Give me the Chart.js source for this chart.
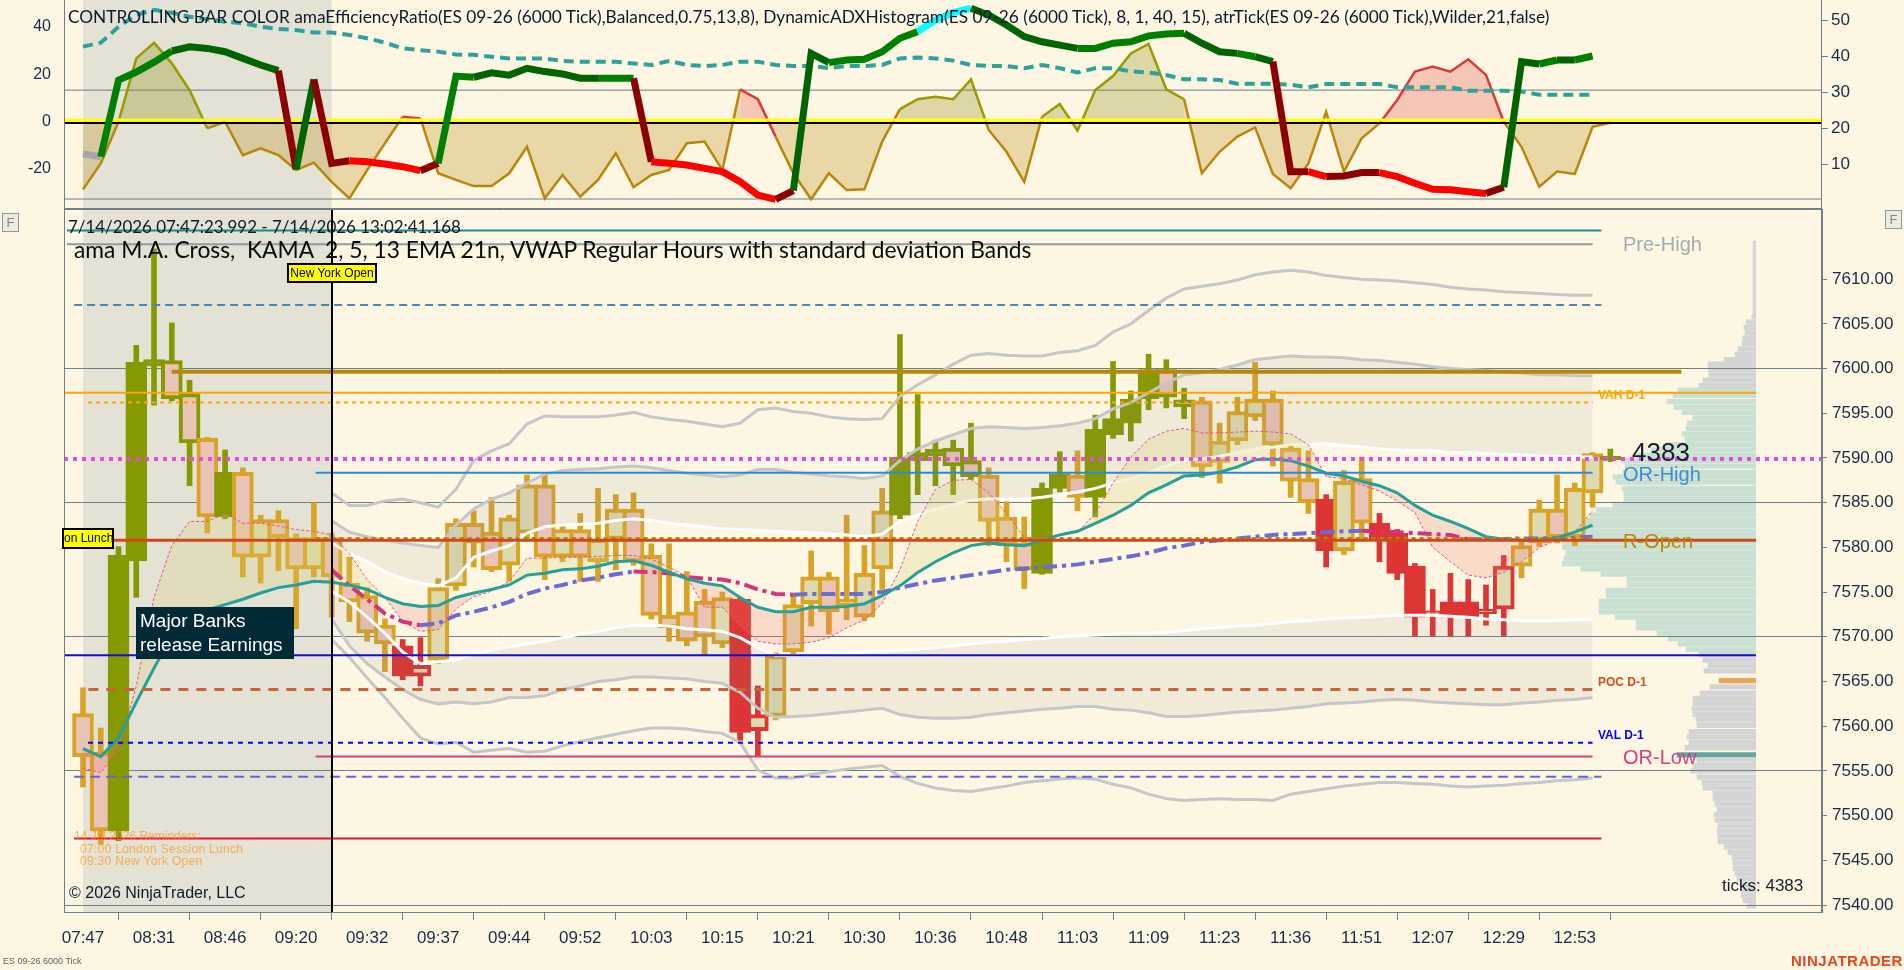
<!DOCTYPE html>
<html>
<head>
<meta charset="utf-8">
<title>ES 09-26 (6000 Tick)</title>
<script src="https://cdn.jsdelivr.net/npm/chart.js@4.4.1/dist/chart.umd.min.js"></script>
<style>
  html, body { margin:0; padding:0; }
  body { width:1904px; height:970px; background:#fdf6e3; position:relative; overflow:hidden; font-family:'Liberation Sans', Arial, sans-serif; }
  canvas { position:absolute; left:0; top:0; width:1904px; height:970px; }
  #overlay { position:absolute; left:0; top:0; width:1904px; height:970px; z-index:5; pointer-events:none; }
  .t { position:absolute; white-space:pre; line-height:1; transform:translateY(-50%); }
  .box { position:absolute; box-sizing:border-box; white-space:nowrap; overflow:hidden; }
</style>
</head>
<body>
<canvas id="cProfile" width="1904" height="970" style="z-index:1"></canvas>
<canvas id="cTop" width="1904" height="970" style="z-index:2"></canvas>
<canvas id="cMain" width="1904" height="970" style="z-index:3"></canvas>
<div id="overlay"></div>
<script>
// ======================= DATA =======================
const timeLabels = ['07:47','08:31','08:46','09:20','09:32','09:37','09:44','09:52','10:03','10:15','10:21',
                    '10:30','10:36','10:48','11:03','11:09','11:23','11:36','11:51','12:07','12:29','12:53'];
const barsPerLabel = 4;
const priceTicks = [7540,7545,7550,7555,7560,7565,7570,7575,7580,7585,7590,7595,7600,7605,7610];
const priceGridEvery = 15;
const topLeftTicks = [-20,0,20,40];
const topRightTicks = [10,20,30,40,50];

// OHLC of the 6000-tick bars (bar 0 = 07:47)
const opens = [7561.4,7557.1,7548.3,7578.5,7600.3,7600.9,7597.2,7592.2,7583.4,7588.4,
 7578.9,7583.1,7581.1,7577.6,7581.1,7576.0,7574.6,7571.3,7569.0,7565.6,
 7567.4,7575.7,7582.7,7581.7,7578.0,7581.6,7587.0,7578.9,7582.0,7578.4,
 7580.9,7584.3,7579.1,7572.4,7572.8,7574.0,7569.2,7574.2,7559.5,7561.1,
 7568.3,7573.7,7576.7,7573.5,7572.2,7577.6,7583.6,7589.7,7590.2,7591.1,
 7589.7,7588.1,7583.4,7580.5,7577.1,7586.6,7588.1,7585.6,7592.6,7593.9,
 7596.6,7599.9,7596.5,7596.4,7589.5,7591.9,7594.6,7596.6,7591.1,7587.7,
 7585.4,7579.6,7587.7,7582.7,7581.6,7577.9,7572.4,7573.9,7573.9,7572.6,
 7573.1,7577.9,7580.5,7584.3,7581.1,7586.1,7589.8];
const highs = [7564.3,7559.8,7580.1,7602.6,7613.4,7605.1,7598.7,7592.3,7590.9,7588.9,
 7583.6,7584.1,7581.5,7585.0,7581.6,7578.9,7575.5,7572.0,7569.7,7569.9,
 7576.5,7583.2,7584.1,7585.6,7583.6,7588.1,7588.1,7582.6,7583.8,7586.6,
 7585.9,7586.1,7580.4,7580.4,7577.3,7575.3,7575.0,7574.3,7564.5,7568.2,
 7574.6,7579.6,7577.2,7583.6,7580.2,7586.6,7603.8,7597.1,7592.0,7592.0,
 7593.9,7588.9,7585.1,7583.4,7587.2,7590.7,7590.8,7594.8,7600.8,7597.5,
 7601.6,7601.0,7597.8,7596.8,7593.9,7596.8,7600.7,7597.5,7591.6,7590.8,
 7585.9,7588.6,7590.1,7583.8,7582.0,7578.2,7575.3,7577.1,7576.4,7575.8,
 7579.1,7580.6,7585.3,7588.1,7587.2,7590.6,7591.0];
const lows = [7553.2,7546.8,7547.2,7574.4,7595.9,7596.4,7586.9,7581.6,7583.2,7576.7,
 7576.0,7577.4,7570.9,7576.7,7572.2,7571.7,7569.5,7566.1,7565.2,7564.5,
 7567.0,7575.2,7577.8,7577.3,7576.2,7581.0,7576.4,7578.4,7576.2,7576.2,
 7577.5,7578.0,7572.0,7569.5,7569.0,7567.9,7568.8,7558.4,7556.6,7560.7,
 7568.0,7571.2,7570.3,7571.9,7571.8,7575.3,7583.2,7585.9,7586.9,7585.9,
 7587.6,7580.2,7578.4,7575.4,7577.0,7586.2,7584.1,7583.4,7592.2,7591.9,
 7595.4,7595.6,7594.4,7587.8,7587.2,7591.5,7594.2,7589.1,7585.6,7583.8,
 7577.8,7579.2,7580.9,7578.4,7576.4,7570.1,7570.1,7570.1,7570.1,7571.3,
 7570.1,7576.6,7580.1,7580.5,7580.2,7584.5,7589.6];
const closes = [7556.6,7548.3,7579.1,7600.7,7601.0,7596.6,7591.7,7583.4,7588.4,7578.9,
 7583.1,7581.1,7577.6,7581.1,7576.7,7573.9,7570.4,7569.2,7565.6,7566.8,
 7575.5,7582.7,7580.5,7577.5,7583.3,7587.0,7578.9,7582.0,7578.9,7580.9,
 7584.3,7578.4,7572.4,7571.0,7569.5,7570.0,7574.4,7559.3,7561.3,7567.9,
 7573.6,7576.7,7572.8,7574.2,7577.1,7584.1,7590.1,7590.6,7591.0,7589.1,
 7587.9,7582.9,7580.2,7577.5,7586.6,7588.2,7585.6,7593.2,7594.4,7596.6,
 7599.9,7596.8,7595.7,7589.0,7591.9,7595.2,7596.6,7591.5,7587.4,7585.0,
 7579.6,7587.4,7582.7,7580.9,7577.1,7572.2,7572.9,7572.2,7572.2,7573.1,
 7577.9,7580.2,7584.3,7581.1,7586.6,7590.5,7590.2];
// controlling bar colour state: g = bullish, o = neutral, r = bearish
const barState = ('oogggggogo oooooooorr oooooooooo ooooooorro oooooogggg ' +
                  'goooggoggg gggooooooo roorrrrrrr rooooog').replace(/ /g,'').split('');

// moving averages (bar 0..85)
const ema = [7557.5,7556.6,7558.7,7562.7,7566.5,7570.1,7571.9,7573.0,7573.6,7574.2,
 7574.9,7575.5,7575.8,7576.2,7576.1,7575.8,7575.3,7574.4,7573.7,7573.4,
 7573.5,7574.4,7574.9,7575.3,7575.8,7576.9,7577.1,7577.5,7577.6,7577.9,
 7578.4,7578.5,7578.0,7577.2,7576.5,7576.0,7575.7,7574.4,7573.3,7572.8,
 7572.8,7573.3,7573.3,7573.4,7573.7,7574.6,7575.7,7577.2,7578.4,7579.4,
 7580.2,7580.5,7580.3,7580.2,7580.8,7581.4,7581.8,7582.7,7583.6,7584.7,
 7586.1,7587.0,7588.0,7588.1,7588.4,7589.0,7589.8,7589.9,7589.7,7589.1,
 7588.3,7588.0,7587.4,7586.9,7586.1,7584.7,7583.6,7582.9,7582.1,7581.2,
 7580.9,7580.8,7580.8,7581.1,7581.7,7582.5];
const kama = [7555.3,7554.8,7557.5,7564.5,7574.4,7580.2,7582.9,7582.9,7583.8,7582.7,
 7582.7,7582.4,7582.0,7581.8,7581.4,7579.3,7576.4,7574.4,7571.7,7570.6,
 7570.8,7573.1,7574.5,7575.1,7576.2,7578.8,7578.8,7578.9,7578.9,7579.0,
 7579.1,7579.1,7578.7,7577.8,7576.7,7573.3,7573.3,7571.3,7569.5,7569.2,
 7569.2,7569.4,7569.9,7571.0,7571.9,7573.7,7577.5,7582.9,7586.5,7587.5,
 7587.6,7586.1,7583.8,7581.1,7581.1,7581.3,7581.7,7583.8,7587.2,7590.1,
 7592.1,7593.0,7593.3,7592.8,7592.8,7592.9,7593.0,7592.9,7592.7,7591.5,
 7587.9,7587.7,7587.0,7586.3,7585.2,7583.9,7580.0,7578.4,7576.9,7576.6,
 7577.2,7578.4,7580.0,7580.8,7581.7,7584.1];

// VWAP (regular hours) and standard deviation bands, from bar 14 (09:30) to bar 85
const bandStartBar = 14;
const vwap = [7577.5,7575.7,7574.2,7572.6,7571.7,7571.3,7571.5,7572.4,7572.8,7573.3,
 7573.9,7574.8,7575.4,7575.8,7576.3,7576.6,7577.0,7577.3,7577.25,7577.1,
 7576.7,7576.5,7576.4,7576.0,7575.3,7574.8,7574.7,7574.8,7574.8,7574.8,
 7574.8,7575.0,7575.5,7575.9,7576.3,7576.6,7576.9,7577.2,7577.5,7577.6,
 7577.8,7577.9,7578.1,7578.4,7578.7,7579.0,7579.4,7579.9,7580.2,7580.6,
 7580.8,7581.0,7581.2,7581.4,7581.5,7581.6,7581.7,7581.8,7581.85,7581.8,
 7581.7,7581.6,7581.5,7581.4,7580.9,7580.9,7580.95,7581.0,7581.0,7581.05,
 7581.1,7581.2];
const upper1 = [7580.5,7579.3,7578.4,7577.3,7576.5,7576.0,7575.7,7576.6,7578.9,7579.6,
 7580.2,7581.6,7582.3,7582.5,7582.6,7582.7,7583.0,7583.2,7583.0,7582.7,
 7582.5,7582.3,7582.1,7582.0,7581.9,7581.8,7581.7,7581.6,7581.5,7581.4,
 7581.2,7581.5,7582.9,7583.6,7584.3,7584.8,7585.3,7585.4,7585.4,7585.4,
 7585.6,7585.9,7586.2,7586.6,7587.2,7587.7,7588.4,7589.1,7589.8,7589.9,
 7590.2,7590.6,7591.0,7591.2,7591.5,7591.5,7591.6,7591.4,7591.2,7591.0,
 7590.9,7590.8,7590.8,7590.6,7590.6,7590.5,7590.4,7590.3,7590.2,7590.2,
 7590.1,7590.1];
const lower1 = [7575.1,7573.9,7572.2,7570.4,7568.3,7567.0,7567.2,7567.4,7568.1,7568.5,
 7568.9,7569.2,7569.5,7569.9,7570.3,7570.6,7571.0,7571.3,7571.3,7571.2,
 7570.9,7570.8,7570.6,7569.9,7568.8,7567.9,7567.9,7568.0,7568.0,7568.1,
 7568.3,7568.4,7568.5,7568.6,7568.8,7569.0,7569.2,7569.4,7569.5,7569.7,
 7569.8,7570.0,7570.1,7570.2,7570.3,7570.4,7570.4,7570.5,7570.7,7570.9,
 7571.0,7571.2,7571.3,7571.5,7571.7,7571.8,7572.0,7572.1,7572.2,7572.3,
 7572.4,7572.4,7572.4,7572.3,7572.2,7572.0,7571.9,7571.8,7571.8,7571.8,
 7571.9,7571.9];
const upper2 = [7583.0,7581.7,7581.2,7580.8,7580.5,7580.2,7580.0,7582.5,7584.3,7585.4,
 7586.1,7587.2,7588.2,7588.6,7588.7,7588.8,7589.0,7589.1,7588.9,7588.6,
 7588.3,7588.1,7587.9,7588.1,7588.7,7588.7,7588.4,7588.2,7588.0,7587.9,
 7587.7,7588.0,7589.7,7591.0,7591.9,7592.6,7593.3,7593.5,7593.4,7593.3,
 7593.4,7593.6,7593.9,7594.4,7595.5,7596.2,7597.3,7598.4,7599.3,7599.5,
 7599.9,7600.4,7601.0,7601.2,7601.4,7601.3,7601.3,7601.2,7601.0,7600.9,
 7600.7,7600.5,7600.2,7600.0,7599.9,7599.8,7599.6,7599.5,7599.3,7599.3,
 7599.2,7599.2];
const lower2 = [7572.0,7569.0,7567.0,7565.5,7564.1,7563.0,7562.5,7562.7,7562.5,7562.7,
 7563.2,7563.2,7563.4,7564.1,7564.5,7565.0,7565.2,7565.5,7565.5,7565.4,
 7565.3,7565.0,7564.8,7563.8,7562.0,7561.0,7561.1,7561.2,7561.4,7561.6,
 7561.8,7562.0,7561.3,7561.0,7560.9,7560.9,7561.0,7561.3,7561.5,7561.7,
 7561.9,7562.0,7562.2,7562.2,7561.9,7561.8,7561.5,7561.1,7561.1,7561.2,
 7561.4,7561.6,7561.7,7561.8,7562.0,7562.2,7562.5,7562.6,7562.7,7562.9,
 7563.0,7562.9,7562.7,7562.6,7562.5,7562.4,7562.4,7562.6,7562.7,7562.9,
 7563.0,7563.2];
const upper3 = [7586.1,7584.7,7584.7,7585.2,7585.4,7585.0,7584.5,7586.5,7589.7,7590.8,
 7591.6,7593.8,7594.7,7594.6,7594.6,7594.6,7594.8,7595.1,7594.6,7594.3,
 7594.1,7593.8,7593.5,7593.9,7595.4,7595.6,7595.2,7595.0,7594.6,7594.4,
 7594.3,7594.4,7596.9,7598.2,7599.3,7600.5,7601.5,7601.7,7601.5,7601.4,
 7601.4,7601.8,7602.0,7602.6,7604.1,7605.0,7606.5,7607.9,7608.9,7609.2,
 7609.5,7609.9,7610.5,7610.8,7611.0,7610.8,7610.4,7610.2,7610.0,7609.9,
 7609.8,7609.6,7609.4,7609.1,7608.9,7608.8,7608.6,7608.5,7608.4,7608.3,
 7608.2,7608.2];
const lower3 = [7569.7,7567.7,7565.4,7563.2,7560.9,7558.7,7558.0,7558.2,7557.1,7557.3,
 7557.5,7557.1,7557.2,7557.8,7558.3,7558.7,7559.1,7559.5,7559.8,7559.8,
 7559.7,7559.4,7559.2,7558.2,7555.1,7554.2,7554.2,7554.6,7554.9,7555.2,
 7555.4,7555.6,7554.4,7553.6,7553.1,7552.8,7552.7,7553.0,7553.3,7553.7,
 7553.9,7554.1,7554.2,7554.1,7553.5,7553.1,7552.4,7551.9,7551.7,7551.8,
 7551.9,7551.8,7551.8,7551.7,7552.4,7552.7,7553.0,7553.3,7553.5,7553.7,
 7553.7,7553.6,7553.5,7553.3,7553.2,7553.3,7553.4,7553.6,7553.7,7553.9,
 7554.0,7554.2];

// horizontal price levels (price, first bar, last bar)
const levelNames  = ['teal','preHigh','steelDash','goldThick','vah','orangeDot','magentaDot','orHigh','rOpen','goldDot','blue','poc','val','orLow','purpleDash','crimson'];
const levelPrices = [7615.45,7613.9,7607.1,7599.65,7597.3,7596.2,7589.9,7588.35,7580.8,7580.95,7567.95,7564.1,7558.15,7556.6,7554.35,7547.45];
const levelFrom   = [-0.9,-0.9,-0.5,5.0,-1.07,0.28,-1.07,13.1,-1.07,13.1,-1.07,0.3,0.28,13.1,-0.5,-0.5];
const levelTo     = [85.5,85.0,85.5,90.0,94.2,85.0,97.92,85.0,94.2,85.0,94.2,85.0,85.0,85.0,85.5,85.5];
const sessionStartBar = 0;
const nyOpenBar = 14;

// volume profile (price, volume)
const profilePrices = [7614.0,7613.4,7612.8,7612.2,7611.6,7611.0,7610.4,7609.8,7609.2,7608.6,7608.0,7607.4,7606.8,7606.2,7605.8,
 7605.2,7604.6,7604.0,7603.4,7602.8,7602.2,7601.6,7601.0,7600.5,7599.9,7599.3,7598.7,7598.1,
 7597.6,7597.0,7596.3,7595.7,7595.1,7594.5,7593.9,7593.3,7592.7,7592.1,7591.5,7590.9,7590.3,7589.7,7589.1,7588.4,7587.9,7587.3,
 7586.6,7586.0,7585.4,7584.8,7584.2,7583.6,7583.0,7582.4,7581.8,7581.2,7580.6,7580.0,7579.4,7578.8,7578.2,7577.6,7577.0,
 7576.4,7575.8,7575.2,7574.6,7574.0,7573.4,7572.8,7572.2,7571.6,7571.0,7570.4,7569.8,7569.2,7568.6,
 7568.0,7567.4,7566.8,7566.2,7565.1,7564.4,7563.7,7563.1,7562.5,7561.9,7561.3,7560.7,7560.1,7559.4,7558.8,7558.2,7557.6,
 7556.8,7556.2,7555.6,7555.0,7554.3,7553.7,7553.1,7552.5,7551.9,7551.3,7550.7,7550.1,7549.5,7548.9,7548.3,7547.7,7547.1,
 7546.5,7545.9,7545.3,7544.7,7544.1,7543.5,7542.9,7542.3,7541.7,7541.1,7540.5,7539.9];
const profileVolumes = [3,3,3,3,3,3,3,3,3,3,3,3,3,3,4,
 10,12,11,13,14,18,21,32,48,48,47,53,57,
 78,83,89,82,74,63,69,70,74,71,90,105,120,135,131,133,143,140,
 134,132,132,143,160,165,170,175,180,185,194,194,190,192,194,175,155,
 129,129,150,150,157,157,157,141,120,120,99,88,78,70,
 57,53,48,52,37,46,56,63,63,64,63,60,59,67,69,67,71,
 79,59,63,65,59,54,53,43,43,41,39,42,41,38,39,38,38,
 32,28,24,23,23,21,19,16,14,15,13,9];
const valueAreaHigh = 7597.8, valueAreaLow = 7568.3;
const prevPocMarkPrice = 7565.1, openRangeMarkPrice = 7556.8;

// upper panel: amaEfficiencyRatio (left scale), state n/u/U/d/D/c
const erValues = [-13.7,-14.9,17.5,20.9,25.1,29.8,31.6,30.9,29.5,26.7,
 23.9,21.5,-20.2,17.8,-17.7,-16.6,-17.0,-18.0,-19.1,-20.8,
 -17.7,19.2,18.7,20.6,19.6,22.5,21.1,20.1,18.3,18.3,
 18.3,18.3,-17.0,-17.7,-18.4,-19.8,-21.2,-25.5,-31.1,-32.9,
 -29.2,28.8,24.9,26.0,26.3,29.5,35.2,38.0,42.9,46.0,
 47.9,45.0,40.8,35.9,33.7,32.3,30.9,30.9,33.1,33.7,
 36.2,37.0,37.3,33.1,29.5,28.8,27.4,25.3,-21.2,-21.2,
 -23.3,-23.0,-21.6,-21.6,-23.3,-26.1,-28.7,-28.9,-29.7,-30.4,
 -27.8,25.3,24.3,26.0,26.0,27.7];
const erState = ('nnuuuuUUUU UUDUDDdddd DuuUUUUUUU uuDddddddd DUUuuuuucc ' +
                 'cUUUUUUuuu uuuUUUuUDD dDDDdddddd DUUuUu').replace(/ /g,'').split('');
// DynamicADXHistogram (left scale)
const adxValues = [-28.7,-17.7,-0.1,26.7,33.3,24.6,13.3,-2.9,-0.1,-14.2,
 -11.3,-14.2,-20.5,-17.4,-25.5,-32.5,-20.5,-9.2,2.0,1.3,
 -21.9,-24.7,-27.3,-27.3,-21.9,-10.7,-32.5,-22.6,-31.8,-24.7,
 -13.4,-27.8,-22.6,-20.5,-9.2,-8.5,-20.5,13.6,9.4,-6.4,
 -21.9,-32.9,-21.9,-29.0,-28.7,-8.5,5.2,9.4,10.5,9.4,
 17.8,-3.6,-12.8,-25.5,2.0,7.4,-3.9,13.3,19.2,28.8,
 32.8,13.6,9.4,-21.9,-12.8,-6.4,-2.5,-22.2,-28.2,-17.7,
 4.1,-21.2,-7.1,-0.8,9.1,21.1,23.2,21.1,26.3,19.7,
 -0.1,-10.7,-27.6,-21.2,-22.2,-2.2,-0.5];
const adxBearRanges = [[17,20],[36,39],[69,71],[73,80]];
// atrTick (right scale)
const atrValues = [42.7,43.8,48.2,51.5,52.9,52.1,51.0,50.3,49.6,49.2,
 48.2,47.6,47.3,46.6,46.6,45.9,45.0,43.8,42.2,41.7,
 41.3,40.5,40.4,39.9,39.4,39.4,39.4,38.7,38.5,38.5,
 38.5,38.0,37.6,38.7,37.6,37.3,37.6,38.5,38.5,37.6,
 37.3,37.3,36.7,37.3,37.3,37.6,39.4,39.7,39.4,38.8,
 37.6,37.3,37.3,36.7,37.6,36.7,35.5,36.7,36.7,35.8,
 35.5,34.8,33.6,33.6,33.4,32.4,32.4,32.4,32.1,31.4,
 32.3,32.3,32.3,32.3,31.4,31.4,31.4,31.4,30.4,30.4,
 30.4,30.2,29.3,29.3,29.3,29.3];
const atrGuideLevels = [30.6, 0.35];
const zeroBand = 0.63;

// ======================= STYLE / LAYOUT =======================
const XMIN = -1.07, XMAX = 97.92;
const C = { session:'#e4e1d5', grid:'#6f7f8a', axisText:'#1c2b45', olive:'#879900', gold:'#d9a326',
            red:'#dd3434', pink:'#e9c3b6', paleUp:'#dddab0' };
const FONT = 'Liberation Sans';
Chart.defaults.font.family = FONT;

const pts = (arr, start) => arr.map((v, k) => ({ x: k + (start || 0), y: v }));
const fixedTicks = list => (s => { s.ticks = list.map(v => ({ value: v })); });
const noEdgePad = s => { s.paddingTop = 0; s.paddingBottom = 0; };

// ======================= MAIN PANEL =======================
const levelStyle = {
  teal:{c:'#1a8c8c',w:2}, preHigh:{c:'#8d9ba3',w:2}, steelDash:{c:'#4a86b8',w:2,d:[8,5]},
  goldThick:{c:'#b8860b',w:4}, vah:{c:'#ffa500',w:2}, orangeDot:{c:'#ffa500',w:2,d:[4,4]},
  magentaDot:{c:'#e64ae6',w:4,d:[4,5]}, orHigh:{c:'#2b8ad6',w:2}, rOpen:{c:'#cc4a1a',w:3},
  goldDot:{c:'#b8860b',w:4,d:[4,4]}, blue:{c:'#1010d0',w:2}, poc:{c:'#c8643c',w:3,d:[10,8]},
  val:{c:'#0000ff',w:2,d:[5,5]}, orLow:{c:'#d2407e',w:2}, purpleDash:{c:'#7060d8',w:2,d:[10,6]},
  crimson:{c:'#dc143c',w:2}
};
const mainDs = [];
const add = d => { mainDs.push(d); return mainDs.length - 1; };
const lineBase = { type:'line', pointRadius:0, fill:false, tension:0, borderCapStyle:'butt' };

levelNames.forEach((n, k) => {
  const s = levelStyle[n];
  add({ ...lineBase, label:n, order:1,
        data:[{x:levelFrom[k], y:levelPrices[k]}, {x:levelTo[k], y:levelPrices[k]}],
        borderColor:s.c, borderWidth:s.w, borderDash:s.d || [] });
});
const emaIdx = add({ ...lineBase, label:'EMA 21', order:2, data:pts(ema), borderColor:'#25a098', borderWidth:3 });
add({ ...lineBase, label:'KAMA', order:3, data:pts(kama), borderColor:'#e0558c', borderWidth:1, borderDash:[3,2],
      fill:{ target:emaIdx, above:'rgba(215,205,110,0.24)', below:'rgba(240,120,110,0.22)' } });
add({ ...lineBase, label:'VWAP', order:2, data:pts(vwap, bandStartBar), borderWidth:4, borderDash:[14,5,4,5],
      borderColor:'#6b6bd6',
      segment:{ borderColor: ctx => ctx.p1.parsed.y >= ctx.p0.parsed.y ? '#6b6bd6' : '#d6337f' } });
const u1 = add({ ...lineBase, label:'+1SD', order:3, data:pts(upper1, bandStartBar), borderColor:'#ffffff', borderWidth:3 });
const l1 = add({ ...lineBase, label:'-1SD', order:3, data:pts(lower1, bandStartBar), borderColor:'#ffffff', borderWidth:3 });
add({ ...lineBase, label:'+2SD', order:4, data:pts(upper2, bandStartBar), borderColor:'#c6c6c6', borderWidth:3,
      fill:{ target:u1 }, backgroundColor:'rgba(128,128,128,0.10)' });
add({ ...lineBase, label:'-2SD', order:4, data:pts(lower2, bandStartBar), borderColor:'#c6c6c6', borderWidth:3,
      fill:{ target:l1 }, backgroundColor:'rgba(128,128,128,0.10)' });
add({ ...lineBase, label:'+3SD', order:4, data:pts(upper3, bandStartBar), borderColor:'#c6c6c6', borderWidth:3 });
add({ ...lineBase, label:'-3SD', order:4, data:pts(lower3, bandStartBar), borderColor:'#c6c6c6', borderWidth:3 });

const stateColor = { g:C.olive, o:C.gold, r:C.red };
const bodyFill = i => {
  const up = closes[i] >= opens[i], s = barState[i];
  if (up) return s === 'g' ? C.olive : C.paleUp;
  return s === 'r' ? C.red : C.pink;
};
add({ type:'bar', label:'bodies', order:8, grouped:false, barThickness:21, borderWidth:4, borderSkipped:false,
      data: opens.map((o, i) => ({ x:i, y:[o, closes[i]] })),
      backgroundColor: opens.map((_, i) => bodyFill(i)),
      borderColor: barState.map(s => stateColor[s]) });
add({ type:'bar', label:'wicks', order:9, grouped:false, barThickness:5, borderWidth:0,
      data: lows.map((l, i) => ({ x:i, y:[l, highs[i]] })),
      backgroundColor: barState.map(s => stateColor[s]) });

const mainFrame = {
  id:'mainFrame',
  beforeDraw(chart) {
    const { ctx, chartArea:a, scales:{ x } } = chart;
    const x0 = x.getPixelForValue(sessionStartBar), x1 = x.getPixelForValue(nyOpenBar);
    ctx.save(); ctx.fillStyle = C.session; ctx.fillRect(x0, a.top, x1 - x0, a.bottom - a.top); ctx.restore();
  },
  afterDatasetsDraw(chart) {
    const { ctx, chartArea:a, scales:{ x } } = chart;
    ctx.save();
    const nx = Math.round(x.getPixelForValue(nyOpenBar));
    ctx.strokeStyle = '#000'; ctx.lineWidth = 2;
    ctx.beginPath(); ctx.moveTo(nx, a.top); ctx.lineTo(nx, a.bottom); ctx.stroke();
    ctx.strokeStyle = C.grid; ctx.lineWidth = 1;
    ctx.strokeRect(a.left + 0.5, a.top + 0.5, a.right - a.left - 1, a.bottom - a.top);
    ctx.restore();
  }
};

new Chart(document.getElementById('cMain'), {
  type:'line',
  data:{ datasets: mainDs },
  options:{
    responsive:false, animation:false, events:[],
    layout:{ padding:{ left:64, top:209, right:0, bottom:0 } },
    plugins:{ legend:{ display:false }, tooltip:{ enabled:false } },
    scales:{
      x:{ type:'linear', min:XMIN, max:XMAX, offset:false, bounds:'data', position:'bottom',
          afterBuildTicks: fixedTicks(timeLabels.map((_, k) => k * barsPerLabel)),
          afterFit(s){ s.height = 58; },
          ticks:{ autoSkip:false, maxRotation:0, padding:8, color:C.axisText, font:{ family:FONT, size:17 },
                  callback:(v, idx) => timeLabels[idx] },
          grid:{ drawOnChartArea:false, tickLength:8, tickColor:C.grid },
          border:{ display:true, color:C.grid } },
      y:{ type:'linear', position:'right', min:7539.22, max:7617.85, bounds:'data',
          afterBuildTicks: fixedTicks(priceTicks),
          afterFit(s){ s.width = 82; noEdgePad(s); },
          ticks:{ padding:5, color:C.axisText, font:{ family:FONT, size:17 }, callback:v => Number(v).toFixed(2) },
          grid:{ color: ctx => (ctx.tick && Math.round(ctx.tick.value - priceTicks[0]) % priceGridEvery === 0) ? C.grid : 'rgba(0,0,0,0)',
                 tickLength:5, tickColor:C.grid },
          border:{ display:true, color:C.grid } }
    }
  },
  plugins:[mainFrame]
});

// ======================= VOLUME PROFILE =======================
const profileColor = p => {
  if (Math.abs(p - prevPocMarkPrice) < 0.05) return '#e8a860';
  if (Math.abs(p - openRangeMarkPrice) < 0.05) return '#62a6a0';
  return (p <= valueAreaHigh && p >= valueAreaLow) ? '#c9e0d2' : '#d4d4d4';
};
new Chart(document.getElementById('cProfile'), {
  type:'bar',
  data:{ datasets:[{ label:'volume', indexAxis:'y', grouped:false, barThickness:4.6, borderWidth:0,
                     data: profilePrices.map((p, k) => ({ x: profileVolumes[k], y: p })),
                     backgroundColor: profilePrices.map(profileColor) }] },
  options:{
    indexAxis:'y', responsive:false, animation:false, events:[],
    layout:{ padding:{ left:1562, right:148, top:209, bottom:58 } },
    plugins:{ legend:{ display:false }, tooltip:{ enabled:false } },
    scales:{
      x:{ type:'linear', min:0, max:194, reverse:true, display:false, bounds:'data' },
      y:{ type:'linear', min:7539.22, max:7617.85, display:false, bounds:'data', offset:false }
    }
  }
});

// ======================= UPPER PANEL =======================
const erColor = { n:'#a6a6a6', u:'#008000', U:'#006400', d:'#ff0000', D:'#8b0000', c:'#00ffff' };
const isBear = i => adxBearRanges.some(r => i >= r[0] && i <= r[1]);
const adxSide = ctx => (ctx.p0.parsed.y + ctx.p1.parsed.y) / 2 >= 0;
const adxBear = ctx => isBear(ctx.p0DataIndex) && isBear(ctx.p1DataIndex);
const topFrame = {
  id:'topFrame',
  beforeDraw(chart) {
    const { ctx, chartArea:a, scales:{ x } } = chart;
    const x0 = x.getPixelForValue(sessionStartBar), x1 = x.getPixelForValue(nyOpenBar);
    ctx.save(); ctx.fillStyle = C.session; ctx.fillRect(x0, a.top, x1 - x0, a.bottom - a.top); ctx.restore();
  },
  afterDraw(chart) {
    const { ctx, chartArea:a } = chart;
    ctx.save(); ctx.strokeStyle = C.grid; ctx.lineWidth = 1;
    ctx.beginPath();
    ctx.moveTo(a.left + 0.5, a.top); ctx.lineTo(a.left + 0.5, a.bottom);
    ctx.moveTo(a.right - 0.5, a.top); ctx.lineTo(a.right - 0.5, a.bottom);
    ctx.moveTo(a.left, a.bottom - 0.5); ctx.lineTo(a.right, a.bottom - 0.5);
    ctx.stroke(); ctx.restore();
  }
};
const topDs = [
  { ...lineBase, label:'amaEfficiencyRatio', yAxisID:'yL', order:1, data:pts(erValues), borderWidth:7,
    borderColor:'#008000', borderJoinStyle:'miter',
    segment:{ borderColor: ctx => erColor[erState[ctx.p1DataIndex]] } },
  { ...lineBase, label:'atrTick', yAxisID:'yR', order:2, data:pts(atrValues), borderWidth:4, borderDash:[10,6], borderColor:'#2ba39a' },
  { ...lineBase, label:'zero hi', yAxisID:'yL', order:3, data:[{x:XMIN,y:zeroBand},{x:XMAX,y:zeroBand}], borderWidth:3, borderColor:'#ffff00' },
  { ...lineBase, label:'zero lo', yAxisID:'yL', order:3, data:[{x:XMIN,y:-zeroBand},{x:XMAX,y:-zeroBand}], borderWidth:2, borderColor:'#000000' },
  { ...lineBase, label:'DynamicADXHistogram', yAxisID:'yL', order:5, data:pts(adxValues), borderWidth:2.5,
    borderColor:'#b8860b',
    fill:{ value:0, above:'rgba(138,138,0,0.28)', below:'rgba(184,134,11,0.27)' },
    segment:{
      borderColor: ctx => adxSide(ctx) ? (adxBear(ctx) ? '#d83a3a' : '#999900') : '#b8860b',
      backgroundColor: ctx => adxSide(ctx) ? (adxBear(ctx) ? 'rgba(225,60,50,0.26)' : 'rgba(138,138,0,0.28)') : 'rgba(184,134,11,0.27)'
    } }
];
atrGuideLevels.forEach(v => topDs.push({ ...lineBase, label:'guide', yAxisID:'yR', order:6,
  data:[{x:XMIN,y:v},{x:XMAX,y:v}], borderWidth:1, borderColor:C.grid }));

new Chart(document.getElementById('cTop'), {
  type:'line',
  data:{ datasets: topDs },
  options:{
    responsive:false, animation:false, events:[],
    layout:{ padding:{ left:0, top:0, right:0, bottom:761 } },
    plugins:{ legend:{ display:false }, tooltip:{ enabled:false } },
    scales:{
      x:{ type:'linear', min:XMIN, max:XMAX, display:false, bounds:'data', offset:false },
      yL:{ type:'linear', position:'left', min:-37.0, max:51.37, bounds:'data',
           afterBuildTicks: fixedTicks(topLeftTicks), afterFit(s){ s.width = 64; noEdgePad(s); },
           ticks:{ padding:13, color:C.axisText, font:{ family:FONT, size:16 } },
           grid:{ drawOnChartArea:false, drawTicks:false }, border:{ display:false } },
      yR:{ type:'linear', position:'right', min:-2.42, max:55.64, bounds:'data',
           afterBuildTicks: fixedTicks(topRightTicks), afterFit(s){ s.width = 82; noEdgePad(s); },
           ticks:{ padding:3, color:C.axisText, font:{ family:FONT, size:17 } },
           grid:{ drawOnChartArea:false, tickLength:6, tickColor:C.grid }, border:{ display:false } }
    }
  },
  plugins:[topFrame]
});

// ======================= TEXT OVERLAY =======================
const ov = document.getElementById('overlay');
function T(text, x, y, css, fitWidth) {
  const d = document.createElement('div');
  d.className = 't'; d.textContent = text;
  d.style.left = x + 'px'; d.style.top = y + 'px';
  Object.assign(d.style, css || {});
  ov.appendChild(d);
  if (fitWidth) {
    const w = d.getBoundingClientRect().width;
    const fs = parseFloat(getComputedStyle(d).fontSize);
    if (w > 0) d.style.fontSize = (fs * fitWidth / w).toFixed(2) + 'px';
  }
  return d;
}
function B(text, x, y, w, h, css) {
  const d = document.createElement('div');
  d.className = 'box'; d.textContent = text;
  Object.assign(d.style, { left:x + 'px', top:y + 'px', width:w + 'px', height:h + 'px' }, css || {});
  ov.appendChild(d);
  return d;
}
const dark = '#0e1a2c';
T('CONTROLLING BAR COLOR amaEfficiencyRatio(ES 09-26 (6000 Tick),Balanced,0.75,13,8), DynamicADXHistogram(ES 09-26 (6000 Tick), 8, 1, 40, 15), atrTick(ES 09-26 (6000 Tick),Wilder,21,false)',
  68, 17, { fontFamily:'Lato', fontSize:'17px', color:dark }, 1482);
T('7/14/2026 07:47:23.992 - 7/14/2026 13:02:41.168', 68, 227, { fontFamily:'Lato', fontSize:'16px', color:dark }, 393);
T('ama M.A. Cross,  KAMA  2, 5, 13 EMA 21n, VWAP Regular Hours with standard deviation Bands', 74, 249,
  { fontFamily:'Lato', fontSize:'21px', color:'#0a0a0a' }, 958);

B('New York Open', 287, 263, 90, 20, { background:'#ffff00', border:'2px solid #000', font:'12px '+FONT, lineHeight:'16px', textAlign:'center', color:'#000' });
B('on Lunch', 62, 528, 52, 21, { background:'#ffff00', border:'2px solid #000', font:'12px '+FONT, lineHeight:'17px', textAlign:'center', color:'#000' });
B('Major Banks\nrelease Earnings', 136, 607, 158, 52, { background:'#002b36', color:'#ffffff', font:'19px '+FONT,
  lineHeight:'24px', padding:'2px 0 0 4px', whiteSpace:'pre' });

T('14 Jul 2026 Reminders:', 74, 836, { font:'12px '+FONT, color:'rgba(255,150,20,0.7)' });
T('07:00 London Session Lunch', 80, 849, { font:'12px '+FONT, color:'rgba(255,150,20,0.7)', letterSpacing:'0.3px' });
T('09:30 New York Open', 80, 861, { font:'12px '+FONT, color:'rgba(255,150,20,0.7)', letterSpacing:'0.3px' });
T('\u00a9 2026 NinjaTrader, LLC', 69, 893, { font:'16px '+FONT, color:dark });

T('Pre-High', 1623, 244, { font:'20px '+FONT, color:'#a2acb2' });
T('VAH D-1', 1598, 395, { font:'bold 12px '+FONT, color:'#ffa500' });
T('4383', 1632, 452, { font:'26px '+FONT, color:'#14202c' });
T('OR-High', 1623, 474, { font:'20px '+FONT, color:'#3b8fd6' });
T('R-Open', 1623, 541, { font:'20px '+FONT, color:'#b8860b' });
T('POC D-1', 1598, 682, { font:'bold 12px '+FONT, color:'#d0501e' });
T('VAL D-1', 1598, 735, { font:'bold 12px '+FONT, color:'#0000ff' });
T('OR-Low', 1623, 757, { font:'20px '+FONT, color:'#d6407f' });
T('ticks: 4383', 1722, 886, { font:'17px '+FONT, color:'#14202c' });

B('F', 2, 213, 17, 19, { border:'1px solid #8a9aa4', background:'#efeadb', color:'#7a8a94', font:'13px '+FONT, textAlign:'center', lineHeight:'17px' });
B('F', 1885, 210, 17, 19, { border:'1px solid #8a9aa4', background:'#efeadb', color:'#7a8a94', font:'13px '+FONT, textAlign:'center', lineHeight:'17px' });

T('ES 09-26 6000 Tick', 3, 961, { font:'9px '+FONT, color:'#56606c' });
T('NINJATRADER', 1791, 960, { font:'bold 15px '+FONT, color:'#e8461e', letterSpacing:'0.5px' }, 112);
</script>
</body>
</html>
